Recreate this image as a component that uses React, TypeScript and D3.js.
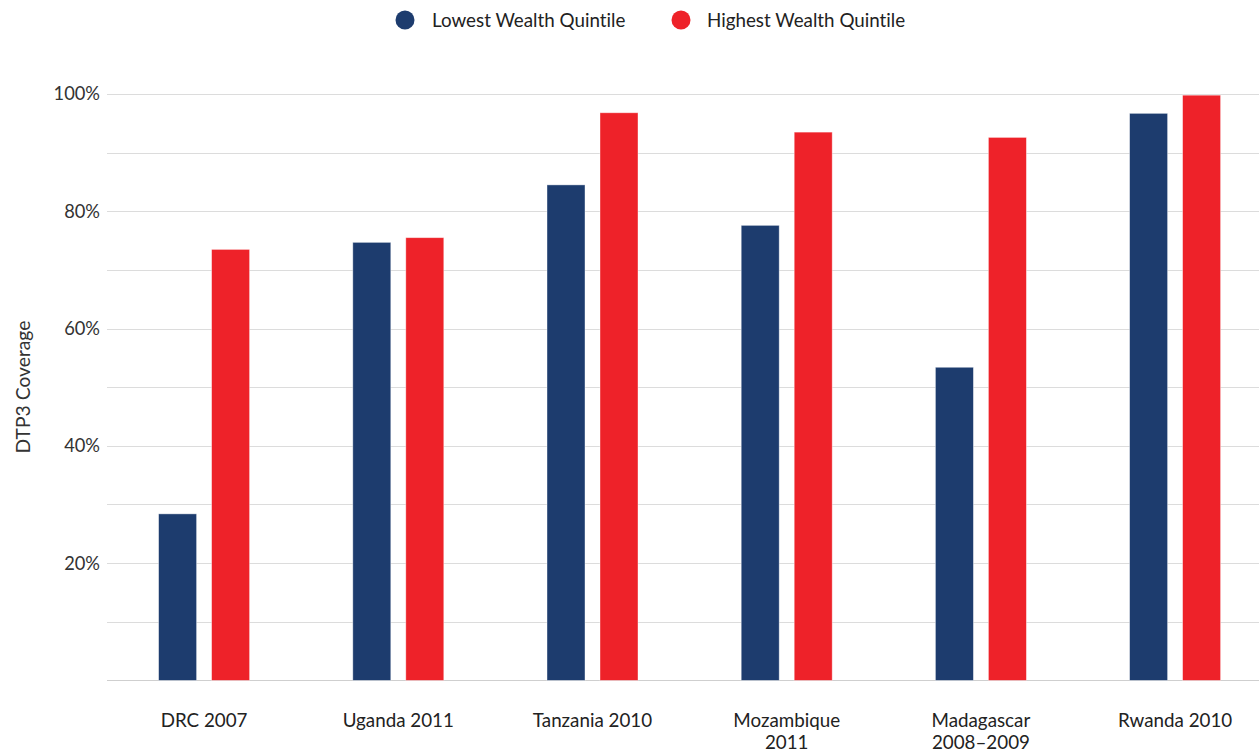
import React from "react";
import * as d3 from "d3";

const categories = [
  ["DRC 2007"],
  ["Uganda 2011"],
  ["Tanzania 2010"],
  ["Mozambique", "2011"],
  ["Madagascar", "2008–2009"],
  ["Rwanda 2010"],
];
const seriesNames = ["Lowest Wealth Quintile", "Highest Wealth Quintile"];
const lowest = [28.4, 74.7, 84.5, 77.6, 53.4, 96.7];
const highest = [73.5, 75.5, 96.8, 93.5, 92.6, 99.8];
const yTickLabels = [20, 40, 60, 80, 100];
const colors = ["#1d3c6e", "#ee2229"];

const W = 1259;
const H = 753;
const FONT = "Lato, 'Open Sans', sans-serif";
const FS = 18.8;

export default function App() {
  const keys = categories.map((c) => c.join(" "));
  const x0 = d3.scaleBand<string>().domain(keys).range([107, 1272.2]).padding(0);
  const step = x0.bandwidth();
  const x1 = d3
    .scaleBand<string>()
    .domain(seriesNames)
    .range([step / 2 - 45.5, step / 2 + 45.5])
    .paddingInner(0.283)
    .paddingOuter(0);
  const y = d3.scaleLinear().domain([0, 100]).range([680.4, 94]);
  const gridVals = d3.range(0, 101, 10);
  const series = [lowest, highest];

  return (
    <svg
      width={W}
      height={H}
      style={{ position: "absolute", left: 0, top: 0, fontFamily: FONT, fontVariantLigatures: "none" }}
    >
      <rect x={0} y={0} width={W} height={H} fill="#fff" />
      {/* legend */}
      <g>
        <circle cx={405} cy={20} r={9.5} fill={colors[0]} />
        <text x={432} y={26.5} fontSize={FS} fill="#222">{seriesNames[0]}</text>
        <circle cx={681} cy={20} r={9.5} fill={colors[1]} />
        <text x={707} y={26.5} fontSize={FS} fill="#222">{seriesNames[1]}</text>
      </g>
      {/* grid */}
      {gridVals.map((v) => (
        <line
          key={v}
          x1={107}
          x2={W}
          y1={Math.round(y(v)) + 0.5}
          y2={Math.round(y(v)) + 0.5}
          stroke={v === 0 ? "#cfcfcf" : "#dcdcdc"}
          strokeWidth={1}
        />
      ))}
      {/* y tick labels */}
      {yTickLabels.map((v) => (
        <text key={v} x={100} y={y(v)} dy="0.35em" textAnchor="end" fontSize={18.3} fill="#333">
          {v}%
        </text>
      ))}
      <text
        transform={`translate(30,${387}) rotate(-90)`}
        textAnchor="middle"
        fontSize={19.3}
        fill="#333"
      >
        DTP3 Coverage
      </text>
      {/* bars */}
      {keys.map((k, i) => (
        <g key={k} transform={`translate(${x0(k)},0)`}>
          {seriesNames.map((s, j) => (
            <rect
              key={s}
              x={x1(s)}
              y={y(series[j][i])}
              width={x1.bandwidth()}
              height={y(0) - y(series[j][i])}
              fill={colors[j]}
              stroke="#ffffff"
              strokeOpacity={0.5}
              strokeWidth={0.8}
            />
          ))}
        </g>
      ))}
      {/* x labels */}
      {categories.map((lines, i) => {
        const cx = (x0(keys[i]) as number) + step / 2;
        return (
          <text key={keys[i]} x={cx} y={727} textAnchor="middle" fontSize={FS} fill="#222">
            {lines.map((l, li) => (
              <tspan key={li} x={cx} dy={li === 0 ? 0 : 21.5}>
                {l}
              </tspan>
            ))}
          </text>
        );
      })}
    </svg>
  );
}
